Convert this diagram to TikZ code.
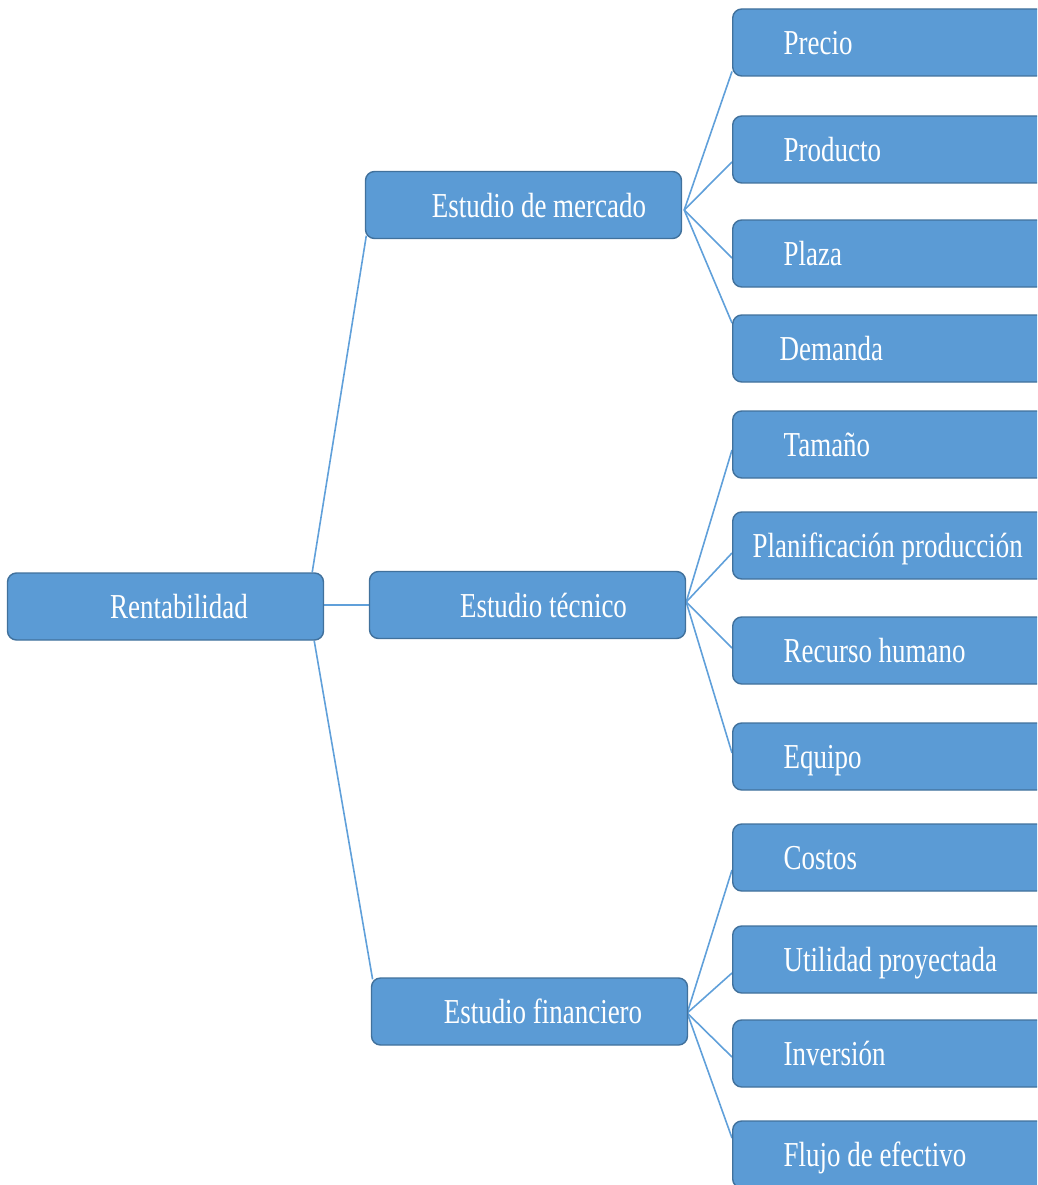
\documentclass[tikz,border=0pt]{standalone}
\usepackage{fontspec}
% Condensed serif for the box labels (tall, narrow Times-like letters)
\newfontfamily\boxfont[FakeStretch=0.77]{Liberation Serif}
\usetikzlibrary{calc,backgrounds}
\definecolor{boxfill}{RGB}{91,155,213}
\definecolor{boxline}{RGB}{65,113,156}
\definecolor{linkblue}{RGB}{96,160,218}

\begin{document}
\begin{tikzpicture}[x=1pt,y=-1pt,
  card/.style={draw=boxline, line width=1.4pt, fill=boxfill,
    rounded corners=9pt, text=white,
    font=\boxfont\fontsize{35}{40}\selectfont,
    minimum height=67, text height=27, text depth=3, inner ysep=0},
  % boxes with (slightly right-shifted) centred text
  centerbox/.style={card, minimum width=316, inner xsep=0,
    execute at begin node={\hspace*{#1pt}}},
  % leaf boxes: left-aligned text, box runs past the right border
  leafbox/.style={card, anchor=west, minimum width=330, text width=330,
    inner xsep=0, align=flush left,
    execute at begin node={\noindent\hspace*{#1pt}}},
  leafbox/.default=51,
  link/.style={draw=linkblue, line width=1.6pt}]

\useasboundingbox (0,0) rectangle (1037,1185);
\clip (0,0) rectangle (1037,1185);

% root and the three studies
\node[centerbox=27] (root) at (165.5,606.5) {Rentabilidad};
\node[centerbox=31] (merc) at (523.5,205)   {Estudio de mercado};
\node[centerbox=32] (tec)  at (527.5,605)   {Estudio técnico};
\node[centerbox=27] (fin)  at (529.5,1011.5){Estudio financiero};

% market study items
\node[leafbox]    (precio)   at (732,42.5)  {Precio};
\node[leafbox]    (producto) at (732,149.5) {Producto};
\node[leafbox]    (plaza)    at (732,253.5) {Plaza};
\node[leafbox=47] (demanda)  at (732,348.5) {Demanda};

% technical study items
\node[leafbox]    (tamano)   at (732,444.5) {Tamaño};
\node[leafbox=20] (planif)   at (732,545.5) {Planificación producción};
\node[leafbox]    (recurso)  at (732,650.5) {Recurso humano};
\node[leafbox]    (equipo)   at (732,756.5) {Equipo};

% financial study items
\node[leafbox]    (costos)    at (732,857.5)  {Costos};
\node[leafbox]    (utilidad)  at (732,959.5)  {Utilidad proyectada};
\node[leafbox]    (inversion) at (732,1053.5) {Inversión};
\node[leafbox]    (flujo)     at (732,1154.5) {Flujo de efectivo};

% connectors, drawn behind the boxes
\begin{scope}[on background layer]
  \coordinate (mercsrc) at ($(merc.east)+(2,5)$);
  \coordinate (tecsrc)  at ($(tec.east)+(0,-3)$);
  \coordinate (finsrc)  at ($(fin.east)+(-1,1.5)$);

  \draw[link] ($(root.north east)+(-12,0)$) -- ($(merc.south west)+(1.5,-3.5)$);
  \draw[link] (tec.west -| root.east) -- (tec.west);
  \draw[link] ($(root.south east)+(-10,0)$) -- ($(fin.north west)+(1.8,2)$);

  \foreach \leaf/\dy in {precio/29, producto/12.5, plaza/4.5, demanda/-25.5}
    \draw[link] (mercsrc) -- ($(\leaf.west)+(0,\dy)$);
  \foreach \leaf/\dy in {tamano/5.5, planif/7.5, recurso/-2.5, equipo/-3.5}
    \draw[link] (tecsrc) -- ($(\leaf.west)+(0,\dy)$);
  \foreach \leaf/\dy in {costos/12.5, utilidad/13.5, inversion/3.5, flujo/-16.5}
    \draw[link] (finsrc) -- ($(\leaf.west)+(0,\dy)$);
\end{scope}
\end{tikzpicture}
\end{document}
